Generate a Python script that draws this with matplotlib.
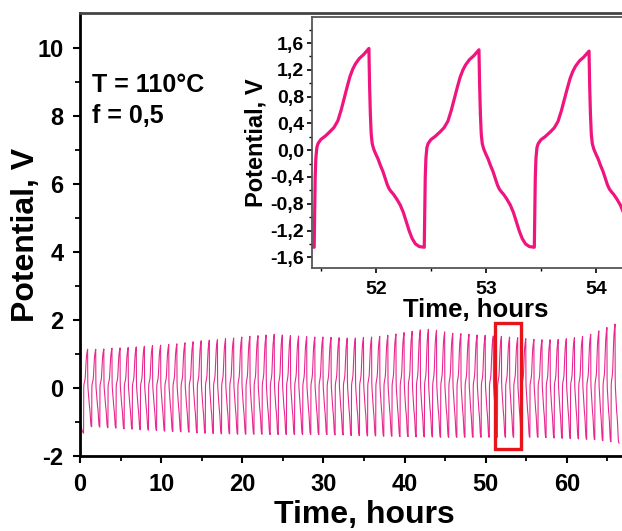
import matplotlib
matplotlib.use("Agg")
import matplotlib.pyplot as plt
from matplotlib.patches import Rectangle
import numpy as np

plt.rcParams['font.family'] = ['Liberation Sans', 'DejaVu Sans']
plt.rcParams['font.weight'] = 'bold'
plt.rcParams['axes.unicode_minus'] = False

# per-cycle extremes (peak n at n+0.93 h)
peaks = [1.14, 1.14, 1.15, 1.17, 1.18, 1.19, 1.21, 1.23, 1.25, 1.26,
         1.28, 1.30, 1.33, 1.36, 1.39, 1.41, 1.42, 1.45, 1.47, 1.50,
         1.52, 1.54, 1.56, 1.58, 1.56, 1.54, 1.53, 1.51, 1.50, 1.50,
         1.49, 1.48, 1.47, 1.47, 1.49, 1.50, 1.52, 1.55, 1.59, 1.63,
         1.67, 1.71, 1.73, 1.70, 1.65, 1.61, 1.60, 1.58, 1.56, 1.55,
         1.53, 1.52, 1.50, 1.48, 1.45, 1.43, 1.42, 1.42, 1.43, 1.45,
         1.48, 1.52, 1.58, 1.68, 1.78, 1.88]
# trough k at k+0.44 h
troughs = [-1.33, -1.14, -1.15, -1.17, -1.18, -1.20, -1.21, -1.23, -1.24, -1.25,
           -1.27, -1.28, -1.29, -1.30, -1.32, -1.33, -1.34, -1.35, -1.35, -1.36,
           -1.36, -1.36, -1.36, -1.37, -1.37, -1.37, -1.37, -1.37, -1.37, -1.37,
           -1.37, -1.38, -1.38, -1.40, -1.40, -1.41, -1.41, -1.42, -1.42, -1.43,
           -1.43, -1.44, -1.44, -1.44, -1.45, -1.45, -1.45, -1.45, -1.45, -1.45,
           -1.45, -1.45, -1.45, -1.45, -1.45, -1.45, -1.45, -1.46, -1.47, -1.48,
           -1.49, -1.50, -1.51, -1.52, -1.55, -1.58, -1.62]

# one charge/discharge cycle (rise at phase 0)
shape_phase = [0.0, 0.004, 0.009, 0.015, 0.024, 0.035, 0.06, 0.10, 0.145, 0.18,
               0.215, 0.245, 0.275, 0.30, 0.325, 0.35, 0.375, 0.41, 0.45, 0.497,
               0.503, 0.51, 0.518, 0.527, 0.54, 0.56, 0.58, 0.60, 0.625, 0.645,
               0.665, 0.682, 0.70, 0.721, 0.75, 0.782, 0.81, 0.835, 0.864, 0.89,
               0.92, 0.955, 1.0]
shape_volt = [-1.45, -1.0, -0.4, -0.12, 0.04, 0.10, 0.16, 0.21, 0.28, 0.34,
              0.44, 0.60, 0.79, 0.95, 1.10, 1.21, 1.29, 1.37, 1.43, 1.52,
              0.99, 0.55, 0.24, 0.10, 0.02, -0.06, -0.13, -0.22, -0.32, -0.42,
              -0.52, -0.58, -0.62, -0.66, -0.73, -0.82, -0.93, -1.06, -1.21, -1.32,
              -1.40, -1.44, -1.45]

lead_t = [0.0, 0.15, 0.30]
lead_v = [-0.95, -1.15, -1.28]

t_all = list(lead_t)
v_all = list(lead_v)
for n, pk in enumerate(peaks):
    for ph, v in zip(shape_phase, shape_volt):
        if ph == 1.0 and n < len(peaks) - 1:
            continue
        if v >= 0:
            vv = v * pk / 1.52
        elif ph < 0.5:
            vv = v * troughs[n] / -1.45
        else:
            vv = v * troughs[n + 1] / -1.45
        t_all.append(n + 0.44 + ph)
        v_all.append(vv)
t_all = np.array(t_all)
v_all = np.array(v_all)

fig = plt.figure(figsize=(6.22, 5.31), dpi=100)
ax = fig.add_axes([0.1286, 0.1412, 0.9132, 0.8343])
ax.plot(t_all, v_all, color='#E8288F', lw=0.8)
ax.add_patch(Rectangle((51.2, -1.8), 3.2, 3.7, fill=False, edgecolor='#E8141B', lw=2.4, zorder=3))
ax.set_xlim(0, 70)
ax.set_ylim(-2, 11.03)
ax.set_xticks([0, 10, 20, 30, 40, 50, 60])
ax.set_xticks(np.arange(5, 70, 10), minor=True)
ax.set_yticks([-2, 0, 2, 4, 6, 8, 10])
ax.set_yticks(np.arange(-1, 11, 2), minor=True)
ax.tick_params(which='major', direction='out', length=5, width=1.5, labelsize=17, pad=7)
ax.tick_params(which='minor', direction='out', length=3.5, width=1.3)
ax.spines['right'].set_visible(False)
for s in ['left', 'bottom']:
    ax.spines[s].set_linewidth(2)
ax.spines['top'].set_linewidth(2)
ax.spines['top'].set_color('#444444')
ax.set_xlabel('Time, hours', fontsize=23, fontweight='bold', labelpad=3)
ax.set_ylabel('Potential, V', fontsize=23, fontweight='bold', labelpad=-3)
ax.text(1.5, 8.9, 'T = 110\u00b0C', fontsize=18, fontweight='bold', va='center', ha='left')
ax.text(1.5, 8.0, 'f = 0,5', fontsize=18, fontweight='bold', va='center', ha='left')

ins = fig.add_axes([0.5016, 0.4953, 0.5273, 0.4727])
ins.plot(t_all, v_all, color='#F0147F', lw=2.3)
ins.set_xlim(51.42, 54.4)
ins.set_ylim(-1.76, 1.99)
ins.set_xticks([52, 53, 54])
ins.set_xticks([51.5, 52.5, 53.5], minor=True)
yt = [-1.6, -1.2, -0.8, -0.4, 0.0, 0.4, 0.8, 1.2, 1.6]
ins.set_yticks(yt)
ins.set_yticklabels([('%.1f' % v).replace('.', ',') for v in yt])
ins.set_yticks(np.arange(-1.4, 1.9, 0.4), minor=True)
ins.tick_params(which='major', direction='out', length=3.5, width=1.2, labelsize=14)
ins.tick_params(axis='y', which='major', pad=2)
ins.tick_params(axis='x', which='major', pad=6)
ins.tick_params(which='minor', direction='out', length=2.5, width=1)
ins.spines['right'].set_visible(False)
for s in ['left', 'bottom', 'top']:
    ins.spines[s].set_linewidth(1.3)
    ins.spines[s].set_color('#555555')
ins.set_xlabel('Time, hours', fontsize=18.5, fontweight='bold', labelpad=0)
ins.set_ylabel('Potential, V', fontsize=17, fontweight='bold', labelpad=2)

fig.savefig('out.png', dpi=100)
